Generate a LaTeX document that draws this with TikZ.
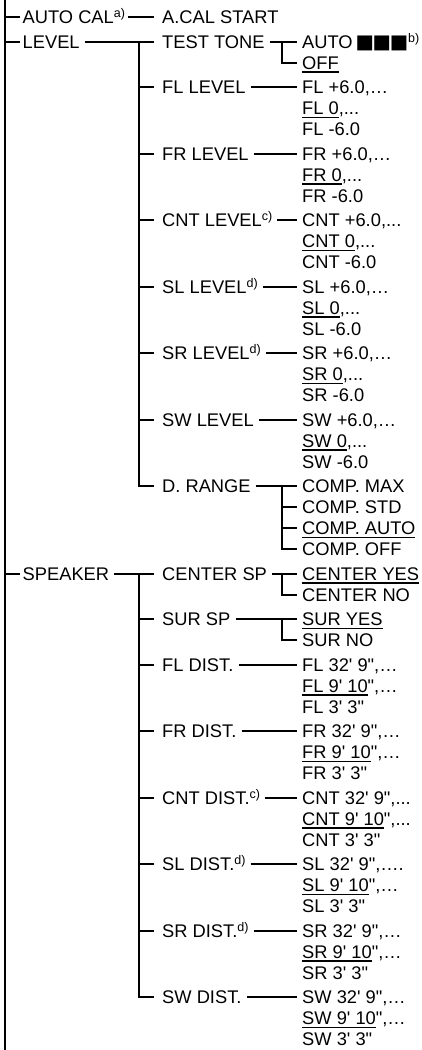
\documentclass[tikz,border=0pt]{standalone}
\usepackage{fontspec}
\newfontfamily\arialf{Liberation Sans}
\newfontfamily\dejavu{DejaVu Sans}
\newcommand\myul[1]{\setbox0\hbox{#1}\rlap{\vrule height -2.3pt depth 3.7pt width \wd0}\box0}
\newcommand\sq{{\dejavu\fontsize{19.5}{19.5}\selectfont ■\kern-1.4pt■\kern-1.4pt■}}
\newcommand\spr[1]{\raisebox{5.8pt}{\fontsize{12.5}{12}\selectfont #1}}
\begin{document}
\begin{tikzpicture}[x=1pt,y=-1pt,
  ln/.style={line width=2pt, line join=miter},
  lbl/.style={anchor=west, inner sep=0pt, text height=13.1pt, text depth=0pt,
    font=\arialf\fontsize{18.3}{21}\selectfont}]
\useasboundingbox (0,0) rectangle (421,1050);
% main spine
\coordinate (top) at (5,0);
\coordinate (bot) at (5,1050);
\draw[ln] (top) -- (bot);
% level 1
\node[lbl] (autocal) at (22.5,17) {AUTO CAL\spr{a)}};
\node[lbl] (level) at (22.5,41.5) {LEVEL};
\node[lbl] (speaker) at (22.5,573.5) {SPEAKER};
\foreach \n in {autocal,level,speaker}
  \draw[ln] (\n.west -| top) -- ([xshift=-2.5pt]\n.west);
% level 2
\node[lbl] (acal) at (162,17) {A.CAL START};
\node[lbl] (tt) at (162,41.5) {TEST TONE};
\node[lbl] (fll) at (162,87) {FL LEVEL};
\node[lbl] (frl) at (162,153.5) {FR LEVEL};
\node[lbl] (cntl) at (162,220) {CNT LEVEL\spr{c)}};
\node[lbl] (sll) at (162,286.5) {SL LEVEL\spr{d)}};
\node[lbl] (srl) at (162,353) {SR LEVEL\spr{d)}};
\node[lbl] (swl) at (162,419.5) {SW LEVEL};
\node[lbl] (dr) at (162,486) {D. RANGE};
\node[lbl] (csp) at (162,573.5) {CENTER SP};
\node[lbl] (ssp) at (162,619) {SUR SP};
\node[lbl] (fld) at (162,664.5) {FL DIST.};
\node[lbl] (frd) at (162,731) {FR DIST.};
\node[lbl] (cntd) at (162,797.5) {CNT DIST.\spr{c)}};
\node[lbl] (sld) at (162,864) {SL DIST.\spr{d)}};
\node[lbl] (srd) at (162,930.5) {SR DIST.\spr{d)}};
\node[lbl] (swd) at (162,997) {SW DIST.};
% level 1 -> level 2
\draw[ln] ([xshift=3pt]autocal.east) -- ([xshift=-8pt]acal.west);
\draw[ln] ([xshift=5pt]level.east) -- ([xshift=-8pt]tt.west);
\draw[ln] ([xshift=-23pt]tt.west) |- ([xshift=-8pt]dr.west);
\foreach \n in {fll,frl,cntl,sll,srl,swl}
  \draw[ln] ([xshift=-23pt]\n.west) -- ([xshift=-8pt]\n.west);
\draw[ln] ([xshift=5pt]speaker.east) -- ([xshift=-8pt]csp.west);
\draw[ln] ([xshift=-23pt]csp.west) |- ([xshift=-8pt]swd.west);
\foreach \n in {ssp,fld,frd,cntd,sld,srd}
  \draw[ln] ([xshift=-23pt]\n.west) -- ([xshift=-8pt]\n.west);
% level 3
\node[lbl] (tt1) at (302,41.5) {AUTO\hspace{3pt}\sq\spr{b)}};
\node[lbl] (tt2) at (302,62.5) {\myul{OFF}};
\node[lbl] (fl1) at (302,87) {FL +6.0,…};
\node[lbl] (fl2) at (302,108) {\myul{FL 0},...};
\node[lbl] (fl3) at (302,129) {FL -6.0};
\node[lbl] (fr1) at (302,153.5) {FR +6.0,…};
\node[lbl] (fr2) at (302,174.5) {\myul{FR 0},...};
\node[lbl] (fr3) at (302,195.5) {FR -6.0};
\node[lbl] (cn1) at (302,220) {CNT +6.0,...};
\node[lbl] (cn2) at (302,241) {\myul{CNT 0},...};
\node[lbl] (cn3) at (302,262) {CNT -6.0};
\node[lbl] (sl1) at (302,286.5) {SL +6.0,…};
\node[lbl] (sl2) at (302,307.5) {\myul{SL 0},...};
\node[lbl] (sl3) at (302,328.5) {SL -6.0};
\node[lbl] (sr1) at (302,353) {SR +6.0,…};
\node[lbl] (sr2) at (302,374) {\myul{SR 0},...};
\node[lbl] (sr3) at (302,395) {SR -6.0};
\node[lbl] (sw1) at (302,419.5) {SW +6.0,…};
\node[lbl] (sw2) at (302,440.5) {\myul{SW 0},...};
\node[lbl] (sw3) at (302,461.5) {SW -6.0};
\node[lbl] (dr1) at (302,486) {COMP. MAX};
\node[lbl] (dr2) at (302,507) {COMP. STD};
\node[lbl] (dr3) at (302,528) {\myul{COMP. AUTO}};
\node[lbl] (dr4) at (302,549) {COMP. OFF};
\node[lbl] (cs1) at (302,573.5) {\myul{CENTER YES}};
\node[lbl] (cs2) at (302,594.5) {CENTER NO};
\node[lbl] (ss1) at (302,619) {\myul{SUR YES}};
\node[lbl] (ss2) at (302,640) {SUR NO};
\node[lbl] (fd1) at (302,664.5) {FL 32' 9",…};
\node[lbl] (fd2) at (302,685.5) {\myul{FL 9' 10}",…};
\node[lbl] (fd3) at (302,706.5) {FL 3' 3"};
\node[lbl] (rd1) at (302,731) {FR 32' 9",…};
\node[lbl] (rd2) at (302,752) {\myul{FR 9' 10}",…};
\node[lbl] (rd3) at (302,773) {FR 3' 3"};
\node[lbl] (cd1) at (302,797.5) {CNT 32' 9",...};
\node[lbl] (cd2) at (302,818.5) {\myul{CNT 9' 10}",...};
\node[lbl] (cd3) at (302,839.5) {CNT 3' 3"};
\node[lbl] (ld1) at (302,864) {SL 32' 9",….};
\node[lbl] (ld2) at (302,885) {\myul{SL 9' 10}",…};
\node[lbl] (ld3) at (302,906) {SL 3' 3"};
\node[lbl] (sd1) at (302,930.5) {SR 32' 9",…};
\node[lbl] (sd2) at (302,951.5) {\myul{SR 9' 10}",…};
\node[lbl] (sd3) at (302,972.5) {SR 3' 3"};
\node[lbl] (wd1) at (302,997) {SW 32' 9",…};
\node[lbl] (wd2) at (302,1018) {\myul{SW 9' 10}",…};
\node[lbl] (wd3) at (302,1039) {SW 3' 3"};
% level 2 -> level 3 (single)
\foreach \a/\b in {fll/fl1,frl/fr1,cntl/cn1,sll/sl1,srl/sr1,swl/sw1,
                   fld/fd1,frd/rd1,cntd/cd1,sld/ld1,srd/sd1,swd/wd1,
                   tt/tt1,dr/dr1,csp/cs1,ssp/ss1}
  \draw[ln] ([xshift=5pt]\a.east) -- ([xshift=-5pt]\b.west);
% level 3 branches
\draw[ln] ([xshift=-20pt]tt1.west) |- ([xshift=-5pt]tt2.west);
\draw[ln] ([xshift=-20pt]dr1.west) |- ([xshift=-5pt]dr4.west);
\foreach \n in {dr2,dr3}
  \draw[ln] ([xshift=-20pt]\n.west) -- ([xshift=-5pt]\n.west);
\draw[ln] ([xshift=-20pt]cs1.west) |- ([xshift=-5pt]cs2.west);
\draw[ln] ([xshift=-20pt]ss1.west) |- ([xshift=-5pt]ss2.west);
\end{tikzpicture}
\end{document}
